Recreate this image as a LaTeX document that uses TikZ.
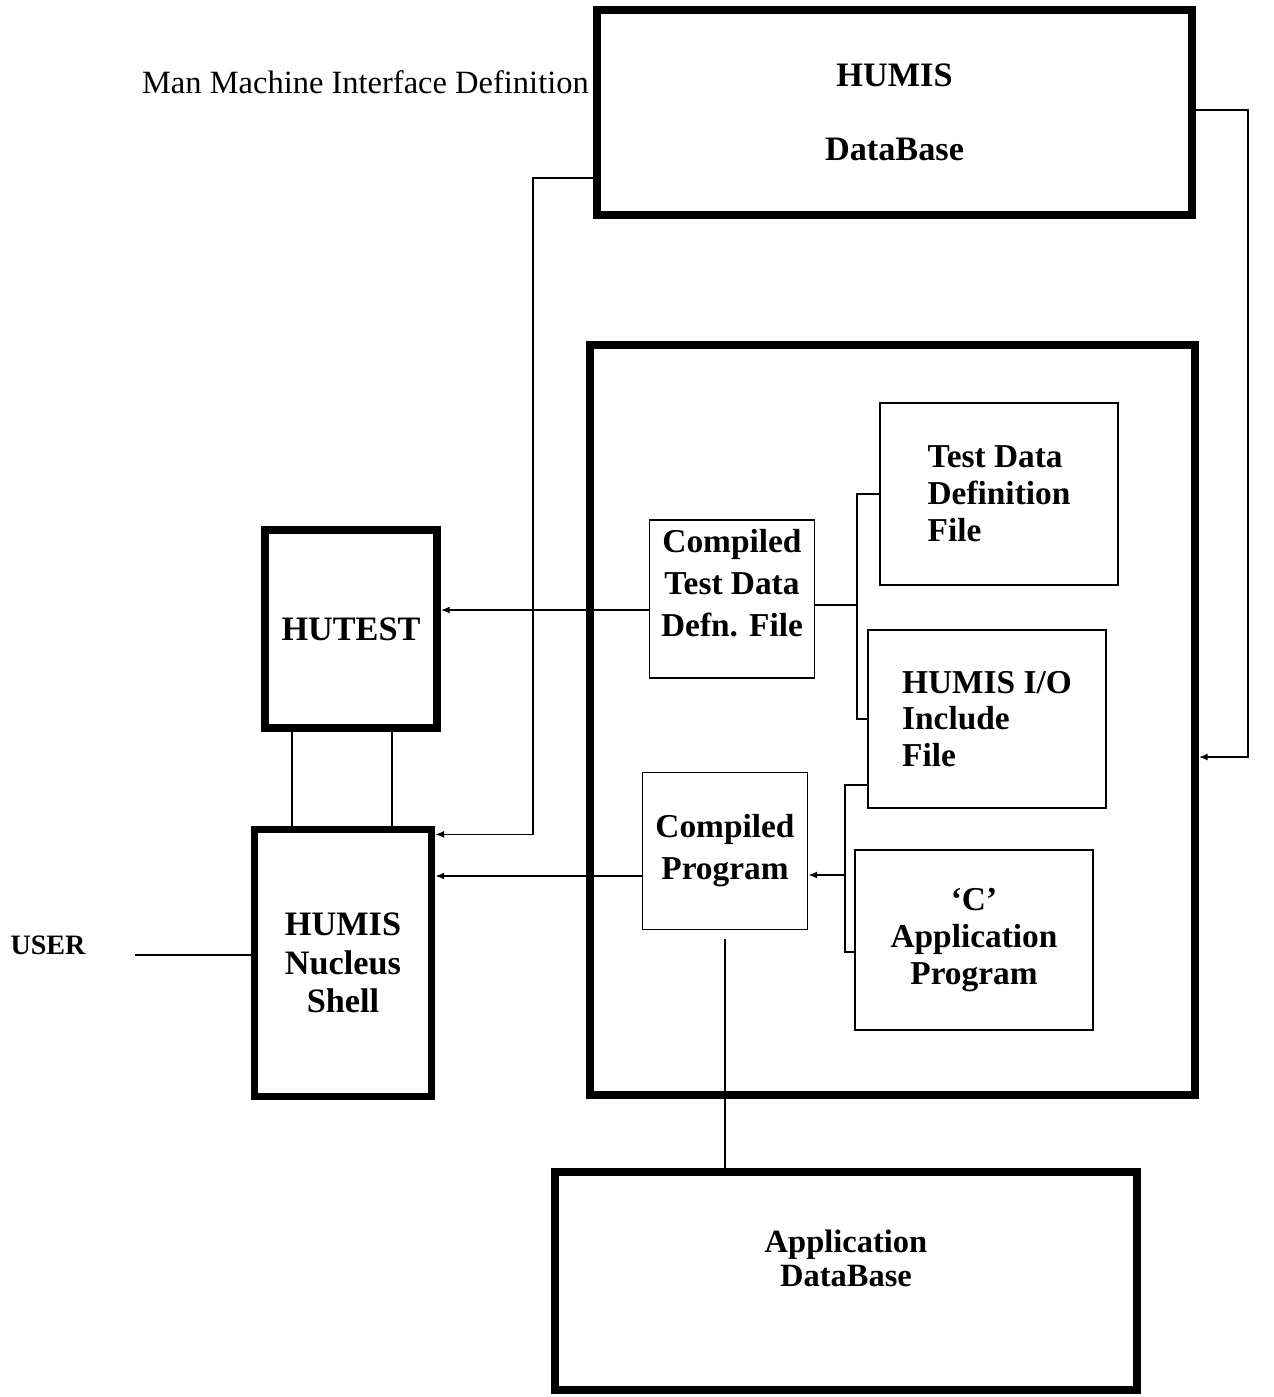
\documentclass[tikz,border=0pt]{standalone}
\usepackage{fontspec}
\setmainfont{Liberation Serif}
\usetikzlibrary{arrows.meta,calc}

\begin{document}
\begin{tikzpicture}[x=0.02cm,y=-0.02cm,
  heavy/.style={draw,line width=4.5pt,inner sep=0pt,align=center,
    font=\bfseries\fontsize{19.5}{22}\selectfont},
  light/.style={draw,line width=1pt,inner sep=0pt,
    font=\bfseries\fontsize{19}{21}\selectfont},
  link/.style={line width=0.8pt},
  flow/.style={link,-{Latex[length=5pt,width=4pt]}}]
  \useasboundingbox (0,0) rectangle (1274,1397);

  % big blocks
  \node[heavy,minimum width=11.9cm,minimum height=4.1cm] (hdb) at (894.5,112.5) {HUMIS\\[20pt]DataBase};
  \node[heavy,minimum width=12.1cm,minimum height=15cm] (sys) at (892.5,720) {};
  \node[heavy,minimum width=3.44cm,minimum height=3.96cm] (hutest) at (351,629) {HUTEST};
  \node[heavy,minimum width=3.54cm,minimum height=5.34cm] (shell) at (343,963) {HUMIS\\Nucleus\\Shell};
  \node[heavy,minimum width=11.66cm,minimum height=4.36cm,font=\bfseries\fontsize{18.5}{19}\selectfont] (appdb) at (846,1281) {Application\\DataBase\\[7pt]\mbox{}};

  % files inside the big block
  \node[light,align=left,minimum width=4.76cm,minimum height=3.64cm] (tdf) at (999,494) {Test Data\\Definition\\File};
  \node[light,align=left,minimum width=4.76cm,minimum height=3.56cm] (ioinc) at (987,719) {HUMIS I/O\\Include\\File};
  \node[light,align=center,minimum width=4.76cm,minimum height=3.6cm] (capp) at (974,940) {`C'\\Application\\Program};
  \node[light,align=center,minimum width=3.3cm,minimum height=3.16cm,font=\bfseries\fontsize{19}{24}\selectfont] (ctdf) at (732,599) {Compiled\\Test Data\\Defn. File\\[-6pt]\mbox{}};
  \node[light,align=center,minimum width=3.3cm,minimum height=3.14cm,font=\bfseries\fontsize{19}{24}\selectfont] (cprog) at (725,851) {Compiled\\Program};

  % labels
  \node[anchor=base east,font=\fontsize{18.5}{20}\selectfont] (mmi) at (595,93) {Man Machine Interface Definition};
  \node[font=\bfseries\fontsize{16}{18}\selectfont] (user) at (48,945) {USER};

  % database links
  \coordinate (lrun) at (533,178);
  \draw[flow] (lrun -| hdb.west) -- (lrun) |- ([yshift=-5pt]shell.north east);
  \coordinate (rrun) at (1248,110);
  \draw[flow] (rrun -| hdb.east) -- (rrun) |- ($(sys.east)+(0,37)$);

  % test data files
  \coordinate (busa) at (857,0);
  \draw[link] (tdf.west) -- (tdf.west -| busa) -- (ioinc.west -| busa) -- (ioinc.west);
  \draw[link] ($(ctdf.east)+(0,6)$) coordinate (ca) -- (ca -| busa);

  % program sources
  \coordinate (busb) at (845,0);
  \coordinate (pa) at ($(ioinc.west)+(0,66)$);
  \coordinate (pb) at ($(capp.west)+(0,12)$);
  \coordinate (pc) at ($(cprog.east)+(0,24)$);
  \draw[link] (pa) -- (pa -| busb) -- (pb -| busb) -- (pb);
  \draw[flow] (pc -| busb) -- (pc);

  % into HUTEST and the shell
  \draw[flow] ($(ctdf.west)+(0,11)$) coordinate (ta) -- (ta -| hutest.east);
  \draw[flow] ($(cprog.west)+(0,25)$) coordinate (tb) -- (tb -| shell.east);
  \draw[link] ($(hutest.south west)+(31,0)$) coordinate (va) -- (va |- shell.north);
  \draw[link] ($(hutest.south east)+(-49,0)$) coordinate (vb) -- (vb |- shell.north);

  % user and application data
  \draw[link] ($(user.east)+(43,10)$) coordinate (ua) -- (ua -| shell.west);
  \draw[link,shorten <=5pt] (cprog.south) -- (cprog.south |- appdb.north);
\end{tikzpicture}
\end{document}
